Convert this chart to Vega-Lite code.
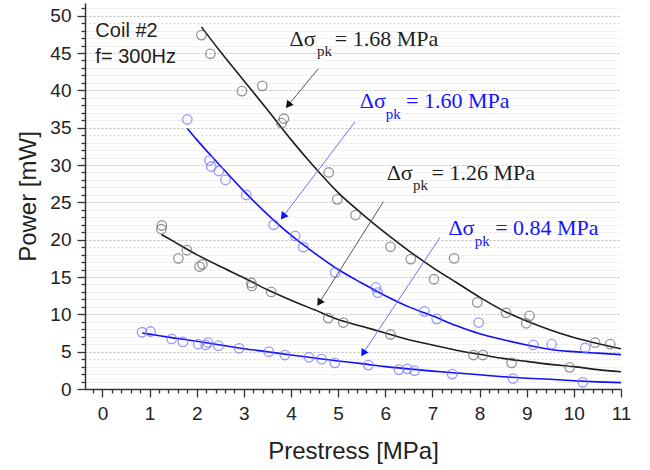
{
  "$schema": "https://vega.github.io/schema/vega-lite/v6.json",
  "width": 536,
  "height": 386,
  "autosize": {"type": "none"},
  "padding": {"left": 85, "top": 3, "right": 29, "bottom": 81},
  "background": "white",
  "config": {"view": {"stroke": null}, "font": "Liberation Sans"},
  "datasets": {
    "points": [
      {"series": "1.68", "x": 2.10, "y": 47.4}, {"series": "1.68", "x": 2.29, "y": 44.9}, {"series": "1.68", "x": 2.96, "y": 39.9},
      {"series": "1.68", "x": 3.39, "y": 40.6}, {"series": "1.68", "x": 3.80, "y": 35.6}, {"series": "1.68", "x": 3.85, "y": 36.2},
      {"series": "1.68", "x": 4.80, "y": 29.0}, {"series": "1.68", "x": 4.98, "y": 25.4}, {"series": "1.68", "x": 5.37, "y": 23.3},
      {"series": "1.68", "x": 6.11, "y": 19.05}, {"series": "1.68", "x": 6.54, "y": 17.4}, {"series": "1.68", "x": 7.03, "y": 14.7},
      {"series": "1.68", "x": 7.46, "y": 17.5}, {"series": "1.68", "x": 7.95, "y": 11.6}, {"series": "1.68", "x": 8.56, "y": 10.2},
      {"series": "1.68", "x": 9.06, "y": 9.8}, {"series": "1.68", "x": 8.99, "y": 8.8}, {"series": "1.68", "x": 10.45, "y": 6.2},
      {"series": "1.68", "x": 10.77, "y": 6.0},
      {"series": "1.60", "x": 1.80, "y": 36.1}, {"series": "1.60", "x": 2.27, "y": 30.6}, {"series": "1.60", "x": 2.31, "y": 29.8},
      {"series": "1.60", "x": 2.47, "y": 29.2}, {"series": "1.60", "x": 2.61, "y": 28.0}, {"series": "1.60", "x": 3.05, "y": 26.0},
      {"series": "1.60", "x": 3.63, "y": 22.0}, {"series": "1.60", "x": 4.09, "y": 20.5}, {"series": "1.60", "x": 4.26, "y": 19.0},
      {"series": "1.60", "x": 4.94, "y": 15.6}, {"series": "1.60", "x": 5.80, "y": 13.6}, {"series": "1.60", "x": 5.84, "y": 12.9},
      {"series": "1.60", "x": 6.83, "y": 10.4}, {"series": "1.60", "x": 7.09, "y": 9.4}, {"series": "1.60", "x": 7.98, "y": 8.9},
      {"series": "1.60", "x": 9.14, "y": 5.9}, {"series": "1.60", "x": 9.53, "y": 6.0}, {"series": "1.60", "x": 10.24, "y": 5.5},
      {"series": "1.26", "x": 1.26, "y": 21.9}, {"series": "1.26", "x": 1.25, "y": 21.4}, {"series": "1.26", "x": 1.79, "y": 18.6},
      {"series": "1.26", "x": 1.61, "y": 17.5}, {"series": "1.26", "x": 2.06, "y": 16.4}, {"series": "1.26", "x": 2.12, "y": 16.7},
      {"series": "1.26", "x": 3.16, "y": 14.2}, {"series": "1.26", "x": 3.17, "y": 13.8}, {"series": "1.26", "x": 3.58, "y": 13.0},
      {"series": "1.26", "x": 4.79, "y": 9.5}, {"series": "1.26", "x": 5.11, "y": 8.9}, {"series": "1.26", "x": 6.11, "y": 7.3},
      {"series": "1.26", "x": 7.87, "y": 4.55}, {"series": "1.26", "x": 8.07, "y": 4.55}, {"series": "1.26", "x": 8.68, "y": 3.5},
      {"series": "1.26", "x": 9.91, "y": 2.9},
      {"series": "0.84", "x": 0.84, "y": 7.6}, {"series": "0.84", "x": 1.02, "y": 7.7}, {"series": "0.84", "x": 1.47, "y": 6.7},
      {"series": "0.84", "x": 1.71, "y": 6.3}, {"series": "0.84", "x": 2.03, "y": 6.0}, {"series": "0.84", "x": 2.19, "y": 5.9},
      {"series": "0.84", "x": 2.24, "y": 6.2}, {"series": "0.84", "x": 2.46, "y": 5.8}, {"series": "0.84", "x": 2.90, "y": 5.45},
      {"series": "0.84", "x": 3.53, "y": 5.0}, {"series": "0.84", "x": 3.87, "y": 4.55}, {"series": "0.84", "x": 4.38, "y": 4.25},
      {"series": "0.84", "x": 4.65, "y": 4.0}, {"series": "0.84", "x": 4.93, "y": 3.5}, {"series": "0.84", "x": 5.64, "y": 3.2},
      {"series": "0.84", "x": 6.29, "y": 2.6}, {"series": "0.84", "x": 6.47, "y": 2.7}, {"series": "0.84", "x": 6.62, "y": 2.45},
      {"series": "0.84", "x": 7.42, "y": 2.0}, {"series": "0.84", "x": 8.71, "y": 1.4}, {"series": "0.84", "x": 10.19, "y": 0.9}
    ],
    "curves": [
      {"series": "1.68", "x": 2.1, "y": 48.5}, {"series": "1.68", "x": 2.5, "y": 45.2}, {"series": "1.68", "x": 3.0, "y": 41.3},
      {"series": "1.68", "x": 3.5, "y": 37.4}, {"series": "1.68", "x": 4.0, "y": 33.4}, {"series": "1.68", "x": 4.5, "y": 29.7},
      {"series": "1.68", "x": 5.0, "y": 26.3}, {"series": "1.68", "x": 5.5, "y": 23.5}, {"series": "1.68", "x": 6.0, "y": 20.9},
      {"series": "1.68", "x": 6.5, "y": 18.5}, {"series": "1.68", "x": 7.0, "y": 16.3}, {"series": "1.68", "x": 7.5, "y": 14.3},
      {"series": "1.68", "x": 8.0, "y": 12.3}, {"series": "1.68", "x": 8.5, "y": 10.5}, {"series": "1.68", "x": 9.0, "y": 9.1},
      {"series": "1.68", "x": 9.5, "y": 7.9}, {"series": "1.68", "x": 10.0, "y": 6.9}, {"series": "1.68", "x": 10.5, "y": 6.1},
      {"series": "1.68", "x": 11.0, "y": 5.4},
      {"series": "1.60", "x": 1.8, "y": 34.9}, {"series": "1.60", "x": 2.0, "y": 33.4}, {"series": "1.60", "x": 2.5, "y": 29.9},
      {"series": "1.60", "x": 3.0, "y": 26.5}, {"series": "1.60", "x": 3.5, "y": 23.4}, {"series": "1.60", "x": 4.0, "y": 20.6},
      {"series": "1.60", "x": 4.5, "y": 18.2}, {"series": "1.60", "x": 5.0, "y": 16.0}, {"series": "1.60", "x": 5.5, "y": 14.2},
      {"series": "1.60", "x": 6.0, "y": 12.5}, {"series": "1.60", "x": 6.5, "y": 11.0}, {"series": "1.60", "x": 7.0, "y": 9.8},
      {"series": "1.60", "x": 7.5, "y": 8.5}, {"series": "1.60", "x": 8.0, "y": 7.4}, {"series": "1.60", "x": 8.5, "y": 6.6},
      {"series": "1.60", "x": 9.0, "y": 5.9}, {"series": "1.60", "x": 9.5, "y": 5.3}, {"series": "1.60", "x": 10.0, "y": 5.0},
      {"series": "1.60", "x": 10.5, "y": 4.8}, {"series": "1.60", "x": 11.0, "y": 4.6},
      {"series": "1.26", "x": 1.25, "y": 20.7}, {"series": "1.26", "x": 1.5, "y": 19.8}, {"series": "1.26", "x": 2.0, "y": 18.0},
      {"series": "1.26", "x": 2.5, "y": 16.4}, {"series": "1.26", "x": 3.0, "y": 14.9}, {"series": "1.26", "x": 3.5, "y": 13.3},
      {"series": "1.26", "x": 4.0, "y": 11.9}, {"series": "1.26", "x": 4.5, "y": 10.6}, {"series": "1.26", "x": 5.0, "y": 9.3},
      {"series": "1.26", "x": 5.5, "y": 8.4}, {"series": "1.26", "x": 6.0, "y": 7.5}, {"series": "1.26", "x": 6.5, "y": 6.6},
      {"series": "1.26", "x": 7.0, "y": 5.9}, {"series": "1.26", "x": 7.5, "y": 5.2}, {"series": "1.26", "x": 8.0, "y": 4.65},
      {"series": "1.26", "x": 8.5, "y": 4.1}, {"series": "1.26", "x": 9.0, "y": 3.7}, {"series": "1.26", "x": 9.5, "y": 3.3},
      {"series": "1.26", "x": 10.0, "y": 3.0}, {"series": "1.26", "x": 10.5, "y": 2.6}, {"series": "1.26", "x": 11.0, "y": 2.3},
      {"series": "0.84", "x": 0.84, "y": 7.5}, {"series": "0.84", "x": 1.0, "y": 7.35}, {"series": "0.84", "x": 1.5, "y": 6.85},
      {"series": "0.84", "x": 2.0, "y": 6.4}, {"series": "0.84", "x": 2.5, "y": 5.9}, {"series": "0.84", "x": 3.0, "y": 5.4},
      {"series": "0.84", "x": 3.5, "y": 5.0}, {"series": "0.84", "x": 4.0, "y": 4.55}, {"series": "0.84", "x": 4.5, "y": 4.15},
      {"series": "0.84", "x": 5.0, "y": 3.75}, {"series": "0.84", "x": 5.5, "y": 3.4}, {"series": "0.84", "x": 6.0, "y": 3.0},
      {"series": "0.84", "x": 6.5, "y": 2.7}, {"series": "0.84", "x": 7.0, "y": 2.4}, {"series": "0.84", "x": 7.5, "y": 2.15},
      {"series": "0.84", "x": 8.0, "y": 1.9}, {"series": "0.84", "x": 8.5, "y": 1.65}, {"series": "0.84", "x": 9.0, "y": 1.45},
      {"series": "0.84", "x": 9.5, "y": 1.3}, {"series": "0.84", "x": 10.0, "y": 1.1}, {"series": "0.84", "x": 10.5, "y": 0.95},
      {"series": "0.84", "x": 11.0, "y": 0.85}
    ],
    "labels": [
      {"series": "1.68", "part": "main", "x": 3.97, "y": 46.0, "text": "Δσ"},
      {"series": "1.68", "part": "main", "x": 4.93, "y": 46.0, "text": "= 1.68 MPa"},
      {"series": "1.68", "part": "sub", "x": 4.55, "y": 44.6, "text": "pk"},
      {"series": "1.60", "part": "main", "x": 5.46, "y": 37.6, "text": "Δσ"},
      {"series": "1.60", "part": "main", "x": 6.44, "y": 37.6, "text": "= 1.60 MPa"},
      {"series": "1.60", "part": "sub", "x": 6.01, "y": 36.1, "text": "pk"},
      {"series": "1.26", "part": "main", "x": 6.03, "y": 28.0, "text": "Δσ"},
      {"series": "1.26", "part": "main", "x": 6.98, "y": 28.0, "text": "= 1.26 MPa"},
      {"series": "1.26", "part": "sub", "x": 6.59, "y": 26.6, "text": "pk"},
      {"series": "0.84", "part": "main", "x": 7.34, "y": 20.6, "text": "Δσ"},
      {"series": "0.84", "part": "main", "x": 8.33, "y": 20.6, "text": "= 0.84 MPa"},
      {"series": "0.84", "part": "sub", "x": 7.90, "y": 19.2, "text": "pk"}
    ],
    "notes": [
      {"x": -0.15, "y": 47.1, "text": "Coil #2"},
      {"x": -0.15, "y": 43.6, "text": "f= 300Hz"}
    ],
    "arrows": [
      {"series": "1.68", "x": 4.58, "y": 42.9, "x2": 3.94, "y2": 38.0},
      {"series": "1.60", "x": 5.36, "y": 35.8, "x2": 3.83, "y2": 23.1},
      {"series": "1.26", "x": 5.96, "y": 25.1, "x2": 4.60, "y2": 11.55},
      {"series": "0.84", "x": 7.16, "y": 20.3, "x2": 5.53, "y2": 4.78}
    ]
  },
  "resolve": {"scale": {"color": "independent"}},
  "layer": [
    {
      "data": {"name": "curves"},
      "mark": {"type": "line", "strokeWidth": 1.6, "interpolate": "monotone"},
      "encoding": {
        "x": {
          "field": "x", "type": "quantitative",
          "scale": {"domain": [-0.37, 11], "nice": false, "zero": false},
          "axis": {
            "title": "Prestress [MPa]",
            "titleFont": "Liberation Sans", "titleFontSize": 24, "titleFontWeight": "normal", "titleColor": "#222", "titlePadding": 16,
            "tickCount": 500,
            "values": [-0.2, 0, 0.2, 0.4, 0.6, 0.8, 1, 1.2, 1.4, 1.6, 1.8, 2, 2.2, 2.4, 2.6, 2.8, 3, 3.2, 3.4, 3.6, 3.8, 4, 4.2, 4.4, 4.6, 4.8, 5, 5.2, 5.4, 5.6, 5.8, 6, 6.2, 6.4, 6.6, 6.8, 7, 7.2, 7.4, 7.6, 7.8, 8, 8.2, 8.4, 8.6, 8.8, 9, 9.2, 9.4, 9.6, 9.8, 10, 10.2, 10.4, 10.6, 10.8, 11],
            "labelExpr": "datum.value % 1 === 0 ? format(datum.value, 'd') : ''",
            "labelFont": "Liberation Sans", "labelFontSize": 19, "labelColor": "#222", "labelPadding": 7,
            "labelFlush": false, "labelOverlap": false, "labelBound": false,
            "tickSize": {"condition": {"test": "datum.value % 1 === 0", "value": 8}, "value": 4},
            "tickColor": "#333", "tickWidth": 1.3, "domainColor": "#333", "domainWidth": 1.5,
            "grid": false
          }
        },
        "y": {
          "field": "y", "type": "quantitative",
          "scale": {"domain": [0, 51.7], "nice": false},
          "axis": {
            "title": "Power [mW]",
            "titleFont": "Liberation Sans", "titleFontSize": 24, "titleFontWeight": "normal", "titleColor": "#222", "titlePadding": 9,
            "tickCount": 500,
            "values": [0, 1, 2, 3, 4, 5, 6, 7, 8, 9, 10, 11, 12, 13, 14, 15, 16, 17, 18, 19, 20, 21, 22, 23, 24, 25, 26, 27, 28, 29, 30, 31, 32, 33, 34, 35, 36, 37, 38, 39, 40, 41, 42, 43, 44, 45, 46, 47, 48, 49, 50, 51],
            "labelExpr": "datum.value % 5 === 0 ? format(datum.value, 'd') : ''",
            "labelFont": "Liberation Sans", "labelFontSize": 19, "labelColor": "#222", "labelPadding": 6,
            "labelOverlap": false, "labelBound": false, "labelFlush": false,
            "tickSize": {"condition": {"test": "datum.value % 5 === 0", "value": 8}, "value": 4},
            "tickColor": "#333", "tickWidth": 1.3, "domainColor": "#333", "domainWidth": 1.5,
            "grid": true,
            "gridDash": [2, 2],
            "gridColor": {"condition": {"test": "datum.value % 5 === 0", "value": "#bdbdbd"}, "value": "#e2e2e2"},
            "gridWidth": 1
          }
        },
        "detail": {"field": "series"},
        "color": {"field": "series", "type": "nominal", "legend": null,
          "scale": {"domain": ["1.68", "1.60", "1.26", "0.84"], "range": ["#1e1e1e", "#1010ff", "#1e1e1e", "#1010ff"]}}
      }
    },
    {
      "data": {"name": "points"},
      "mark": {"type": "point", "shape": "circle", "filled": false, "size": 90, "strokeWidth": 1.3},
      "encoding": {
        "x": {"field": "x", "type": "quantitative"},
        "y": {"field": "y", "type": "quantitative"},
        "color": {"field": "series", "type": "nominal", "legend": null,
          "scale": {"domain": ["1.68", "1.60", "1.26", "0.84"], "range": ["#6a6a6a", "#6e6eff", "#6a6a6a", "#6e6eff"]}}
      }
    },
    {
      "data": {"name": "arrows"},
      "mark": {"type": "rule", "strokeWidth": 1},
      "encoding": {
        "x": {"field": "x", "type": "quantitative"},
        "y": {"field": "y", "type": "quantitative"},
        "x2": {"field": "x2"},
        "y2": {"field": "y2"},
        "color": {"field": "series", "type": "nominal", "legend": null,
          "scale": {"domain": ["1.68", "1.60", "1.26", "0.84"], "range": ["#555555", "#7070ff", "#555555", "#7070ff"]}}
      }
    },
    {
      "data": {"name": "arrows"},
      "transform": [{"filter": "datum.series === '1.68'"}],
      "mark": {"type": "point", "shape": "triangle-down", "filled": true, "size": 70, "angle": 39, "color": "#111", "opacity": 1},
      "encoding": {
        "x": {"field": "x2", "type": "quantitative"},
        "y": {"field": "y2", "type": "quantitative"}
      }
    },
    {
      "data": {"name": "arrows"},
      "transform": [{"filter": "datum.series === '1.60'"}],
      "mark": {"type": "point", "shape": "triangle-down", "filled": true, "size": 70, "angle": 37, "color": "#1010ff", "opacity": 1},
      "encoding": {
        "x": {"field": "x2", "type": "quantitative"},
        "y": {"field": "y2", "type": "quantitative"}
      }
    },
    {
      "data": {"name": "arrows"},
      "transform": [{"filter": "datum.series === '1.26'"}],
      "mark": {"type": "point", "shape": "triangle-down", "filled": true, "size": 70, "angle": 32, "color": "#111", "opacity": 1},
      "encoding": {
        "x": {"field": "x2", "type": "quantitative"},
        "y": {"field": "y2", "type": "quantitative"}
      }
    },
    {
      "data": {"name": "arrows"},
      "transform": [{"filter": "datum.series === '0.84'"}],
      "mark": {"type": "point", "shape": "triangle-down", "filled": true, "size": 70, "angle": 33, "color": "#1010ff", "opacity": 1},
      "encoding": {
        "x": {"field": "x2", "type": "quantitative"},
        "y": {"field": "y2", "type": "quantitative"}
      }
    },
    {
      "data": {"name": "labels"},
      "transform": [{"filter": "datum.part === 'main'"}],
      "mark": {"type": "text", "font": "Liberation Serif", "fontSize": 22, "align": "left", "baseline": "alphabetic"},
      "encoding": {
        "x": {"field": "x", "type": "quantitative"},
        "y": {"field": "y", "type": "quantitative"},
        "text": {"field": "text"},
        "color": {"field": "series", "type": "nominal", "legend": null,
          "scale": {"domain": ["1.68", "1.60", "1.26", "0.84"], "range": ["#1e1e1e", "#1414ff", "#1e1e1e", "#1414ff"]}}
      }
    },
    {
      "data": {"name": "labels"},
      "transform": [{"filter": "datum.part === 'sub'"}],
      "mark": {"type": "text", "font": "Liberation Serif", "fontSize": 15, "align": "left", "baseline": "alphabetic"},
      "encoding": {
        "x": {"field": "x", "type": "quantitative"},
        "y": {"field": "y", "type": "quantitative"},
        "text": {"field": "text"},
        "color": {"field": "series", "type": "nominal", "legend": null,
          "scale": {"domain": ["1.68", "1.60", "1.26", "0.84"], "range": ["#1e1e1e", "#1414ff", "#1e1e1e", "#1414ff"]}}
      }
    },
    {
      "data": {"name": "notes"},
      "mark": {"type": "text", "font": "Liberation Sans", "fontSize": 20, "align": "left", "baseline": "alphabetic", "color": "#1e1e1e"},
      "encoding": {
        "x": {"field": "x", "type": "quantitative"},
        "y": {"field": "y", "type": "quantitative"},
        "text": {"field": "text"}
      }
    }
  ]
}
